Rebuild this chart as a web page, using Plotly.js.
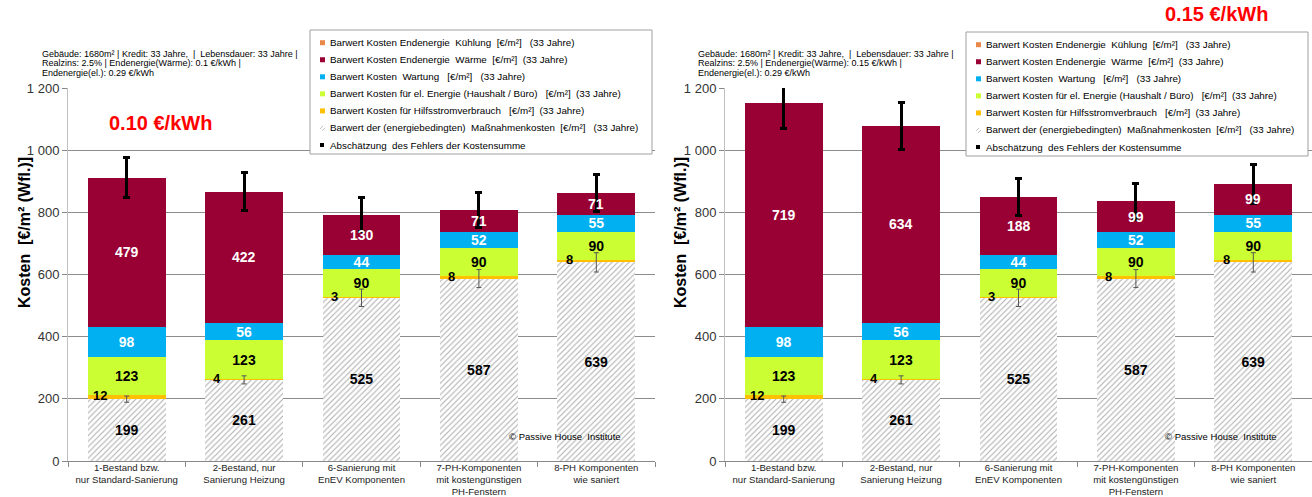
<!DOCTYPE html>
<html><head><meta charset="utf-8">
<script src="https://cdn.plot.ly/plotly-3.0.1.min.js"></script>
<style>html,body{margin:0;padding:0;background:#fff}#chart{width:1312px;height:497px}</style>
</head><body><div id="chart"></div>
<script>
// ---- data ----
const categories = [
  "1-Bestand bzw.<br>nur Standard-Sanierung",
  "2-Bestand, nur<br>Sanierung Heizung",
  "6-Sanierung mit<br>EnEV Komponenten",
  "7-PH-Komponenten<br>mit kostengünstigen<br>PH-Fenstern",
  "8-PH Komponenten<br>wie saniert"
];
const massnahmen = [199, 261, 525, 587, 639];
const hilfsstrom = [12, 4, 3, 8, 8];
const elEnergie = [123, 123, 90, 90, 90];
const wartung = [98, 56, 44, 52, 55];
const waermeLeft = [479, 422, 130, 71, 71];
const waermeRight = [719, 634, 188, 99, 99];
const kuehlung = [0, 0, 0, 0, 0];
const fehlerLeft = [64, 61, 55, 57, 60];
const fehlerRight = [81, 75, 60, 58, 62];
const fehlerMassnahmen = [10, 13, 28, 29, 31];
const priceLeft = "0.10 €/kWh";
const priceRight = "0.15 €/kWh";
const infoLeft = ["Gebäude: 1680m² | Kredit: 33 Jahre,  |  Lebensdauer: 33 Jahre |",
  "Realzins: 2.5% | Endenergie(Wärme): 0.1 €/kWh |", "Endenergie(el.): 0.29 €/kWh"];
const infoRight = ["Gebäude: 1680m² | Kredit: 33 Jahre,  |  Lebensdauer: 33 Jahre |",
  "Realzins: 2.5% | Endenergie(Wärme): 0.15 €/kWh |", "Endenergie(el.): 0.29 €/kWh"];
const legendLabels = [
  "Barwert Kosten Endenergie  Kühlung  [€/m²]   (33 Jahre)",
  "Barwert Kosten Endenergie  Wärme  [€/m²]  (33 Jahre)",
  "Barwert Kosten  Wartung   [€/m²]   (33 Jahre)",
  "Barwert Kosten für el. Energie (Haushalt / Büro)   [€/m²]  (33 Jahre)",
  "Barwert Kosten für Hilfsstromverbrauch   [€/m²]  (33 Jahre)",
  "Barwert der (energiebedingten)  Maßnahmenkosten  [€/m²]   (33 Jahre)",
  "Abschätzung  des Fehlers der Kostensumme"
];
const yTitle = "Kosten  [€/m² (Wfl.)]";
const copyright = "© Passive House  Institute";

// ---- style ----
const FONT = "Liberation Sans, Arial, sans-serif";
const C = {kuehl:'#E8894A', waerme:'#990033', wartung:'#00B0F0', el:'#CCFF33', hilfs:'#FFC000', err:'#000000'};
const W = 1312, PT = 88, PB = 461, PH = PB - PT;
const px = v => v / W;
const py = v => (PB - v) / PH;
const nb = s => s.replace(/ (?= )/g, '\u00a0');
const LBL = {family:FONT, size:14, weight:'bold', color:'#000'};

function panel(xa, ya, waerme, fehler) {
  const base = {type:'bar', x:categories, xaxis:xa, yaxis:ya, showlegend:false, hoverinfo:'skip',
    textposition:'inside', insidetextanchor:'middle', textangle:0, textfont:LBL};
  return [
    Object.assign({}, base, {y:massnahmen, text:massnahmen.map(String),
      marker:{color:'#ffffff', line:{width:0}, pattern:{shape:'/', fillmode:'replace', bgcolor:'#ffffff', fgcolor:'#b0b0b0', size:4, solidity:0.28}}}),
    Object.assign({}, base, {y:hilfsstrom, textposition:'none', marker:{color:C.hilfs, line:{width:0}}}),
    Object.assign({}, base, {y:elEnergie, text:elEnergie.map(String), marker:{color:C.el, line:{width:0}}}),
    Object.assign({}, base, {y:wartung, text:wartung.map(String), marker:{color:C.wartung, line:{width:0}},
      textfont:Object.assign({}, LBL, {color:'#fff'})}),
    Object.assign({}, base, {y:waerme, textposition:'none', marker:{color:C.waerme, line:{width:0}}}),
    Object.assign({}, base, {y:kuehlung, textposition:'none', marker:{color:C.kuehl, line:{width:0}},
      error_y:{type:'data', array:fehler, visible:true, color:'#000', thickness:3, width:3.5}}),
    {type:'scatter', mode:'markers', x:categories, y:massnahmen, xaxis:xa, yaxis:ya, showlegend:false, hoverinfo:'skip',
      marker:{size:1, color:'rgba(0,0,0,0)'},
      error_y:{type:'data', array:fehlerMassnahmen, visible:true, color:'#555', thickness:1, width:2.5}}
  ];
}

const data = [].concat(panel('x','y',waermeLeft,fehlerLeft), panel('x2','y2',waermeRight,fehlerRight));

const annotations = [];
const shapes = [];
function decorate(dx, xa, ya, waerme, price, pricePos, info) {
  // Wärme labels (drawn above the error bars, as in the original)
  waerme.forEach((v, i) => annotations.push({xref:xa, yref:ya, x:i,
    y:massnahmen[i] + hilfsstrom[i] + elEnergie[i] + wartung[i] + v / 2,
    text:String(v), showarrow:false, yanchor:'middle', font:Object.assign({}, LBL, {color:'#fff'})}));
  // small Hilfsstrom labels
  hilfsstrom.forEach((v, i) => annotations.push({xref:xa, yref:ya, x:i - 0.23, y:massnahmen[i] + v,
    text:String(v), showarrow:false, yanchor:'middle', font:{family:FONT, size:13, weight:'bold', color:'#000'}}));
  // y title
  annotations.push({xref:'paper', yref:'paper', x:px(24 + dx), y:py(233), text:yTitle, textangle:-90, showarrow:false,
    xanchor:'center', yanchor:'middle', font:{family:FONT, size:16, weight:'bold', color:'#000'}});
  // price
  annotations.push({xref:'paper', yref:'paper', x:px(pricePos[0]), y:py(pricePos[1]), text:price, showarrow:false,
    xanchor:'center', yanchor:'middle', font:{family:FONT, size:20, weight:'bold', color:'#FF0000'}});
  // info lines
  info.forEach((t, k) => annotations.push({xref:'paper', yref:'paper', x:px(40 + dx), y:py(54 + k * 9.4), text:nb(t),
    showarrow:false, xanchor:'left', yanchor:'middle', font:{family:FONT, size:9, color:'#000'}}));
  // copyright
  annotations.push({xref:'paper', yref:'paper', x:px(507 + dx), y:py(436), text:nb(copyright), showarrow:false,
    xanchor:'left', yanchor:'middle', font:{family:FONT, size:9.5, color:'#000'}});
  // legend box
  const dy = dx ? 2 : 0;
  shapes.push({type:'rect', xref:'paper', yref:'paper', x0:px(310 + dx), x1:px(652 + dx), y0:py(30 + dy), y1:py(154 + dy),
    line:{color:'#a0a0a0', width:1}, fillcolor:'#ffffff', layer:'above'});
  const cols = [C.kuehl, C.waerme, C.wartung, C.el, C.hilfs, null, C.err];
  legendLabels.forEach((t, k) => {
    const cy = 42.7 + 17.05 * k + dy;
    const x0 = 320 + dx;
    if (k === 5) {
      shapes.push({type:'line', xref:'paper', yref:'paper', x0:px(x0), x1:px(x0 + 3), y0:py(cy + 1), y1:py(cy - 2), line:{color:'#c0c0c0', width:1}, layer:'above'});
      shapes.push({type:'line', xref:'paper', yref:'paper', x0:px(x0 + 2), x1:px(x0 + 5), y0:py(cy + 3), y1:py(cy), line:{color:'#c0c0c0', width:1}, layer:'above'});
    } else {
      const s = k === 6 ? 4 : 5;
      shapes.push({type:'rect', xref:'paper', yref:'paper', x0:px(x0), x1:px(x0 + s), y0:py(cy + s / 2), y1:py(cy - s / 2),
        line:{width:0}, fillcolor:cols[k], layer:'above'});
    }
    annotations.push({xref:'paper', yref:'paper', x:px(328 + dx), y:py(cy), text:nb(t), showarrow:false,
      xanchor:'left', yanchor:'middle', font:{family:FONT, size:9.8, color:'#000'}});
  });
}
decorate(0, 'x', 'y', waermeLeft, priceLeft, [160, 123], infoLeft);
decorate(656, 'x2', 'y2', waermeRight, priceRight, [1216, 14], infoRight);

const xBase = {type:'category', tickson:'boundaries', ticks:'outside', ticklen:5, tickcolor:'#888',
  showline:true, linecolor:'#888', linewidth:1, showgrid:false, fixedrange:true, ticklabelstandoff:-3,
  tickfont:{family:FONT, size:9.6, color:'#222'}};
const yBase = {range:[0, 1200], dtick:200, tickformat:',.0f', ticks:'outside', ticklen:5, tickcolor:'#888',
  showline:true, linecolor:'#bfbfbf', linewidth:1, showgrid:true, gridcolor:'#8c8c8c', gridwidth:1,
  zeroline:false, tickfont:{family:FONT, size:13, color:'#333'}, fixedrange:true};

const layout = {
  width:1312, height:497, paper_bgcolor:'#fff', plot_bgcolor:'#fff',
  margin:{l:0, r:0, t:PT, b:497 - PB, pad:0},
  barmode:'stack', bargap:0.336, separators:', ', constraintext:'none', showlegend:false,
  uniformtext:{mode:'show', minsize:14},
  font:{family:FONT},
  xaxis:Object.assign({}, xBase, {domain:[px(68), px(655)], anchor:'y'}),
  yaxis:Object.assign({}, yBase, {anchor:'x'}),
  xaxis2:Object.assign({}, xBase, {domain:[px(725), 1], anchor:'y2'}),
  yaxis2:Object.assign({}, yBase, {anchor:'x2'}),
  annotations:annotations, shapes:shapes
};
Plotly.newPlot('chart', data, layout, {displayModeBar:false, staticPlot:true});
</script></body></html>
